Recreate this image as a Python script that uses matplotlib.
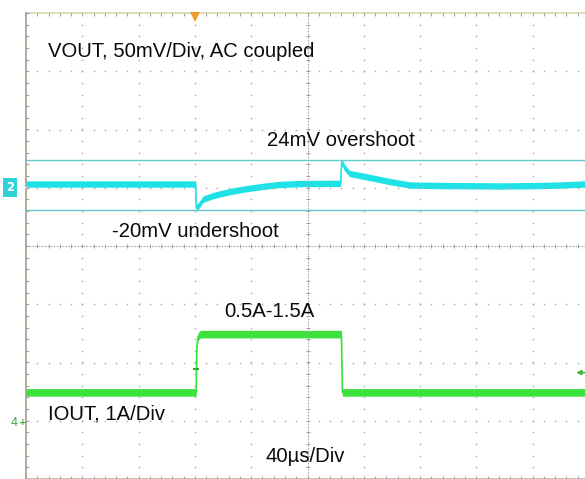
import numpy as np
import matplotlib
matplotlib.use("Agg")
import matplotlib.pyplot as plt

# ---------------- data ----------------
time_v_us = [0, 120.5, 121.0, 123.0, 126.0, 133.0, 145.0, 157.0, 168.0, 180.0,
             195.0, 223.5, 224.3, 226.5, 230.0, 244.0, 259.0, 273.0, 294.0,
             337.0, 365.0, 379.0, 397.0, 400.0]
vout_mV = [0, 0, -20.6, -18.0, -12.9, -9.9, -6.4, -3.9, -2.1, -0.4,
           0.4, 0.6, 18.9, 13.7, 9.0, 5.7, 2.0, -0.9, -1.3,
           -1.7, -1.3, -0.9, 0, 0]

time_i_us = [0, 120.9, 121.4, 122.3, 124.0, 224.1, 224.8, 400.0]
iout_A = [0.5, 0.5, 1.30, 1.46, 1.5, 1.5, 0.5, 0.5]

cursor_mV = [21.0, -22.3]
trig_level_A = 0.84
trig_point_A = 0.90
trig_time_us = 121.0

vout_scale_mV = 50.0     # per division
iout_scale_A = 1.0       # per division
vout_offset_div = 1.064
iout_offset_div = -3.013

labels = [
    ("VOUT, 50mV/Div, AC coupled", 48, 57),
    ("24mV overshoot", 267, 146),
    ("-20mV undershoot", 112, 237),
    ("0.5A-1.5A", 224, 317),
    ("IOUT, 1A/Div", 48, 419),
    ("40\u00b5s/Div", 265, 462),
]

# ---------------- figure ----------------
W, H = 585, 479
fig = plt.figure(figsize=(W / 100, H / 100), dpi=100)
fig.patch.set_facecolor("white")
L, R, T, B = 26, 589, 13, 479
ax = fig.add_axes([L / W, (H - B) / H, (R - L) / W, (B - T) / H])
ax.set_xlim(0, 400)
ax.set_ylim(-4, 4)
ax.axis("off")

px_y = (B - T) / 8.0  # pixels per vertical division
grid_c = "#b0b0b0"

# dotted grid
for xi in range(1, 10):
    if xi == 5:
        continue
    ys = np.arange(-4, 4.001, 0.2)
    ax.plot(np.full_like(ys, xi * 40.0), ys, ls="none", marker="s", ms=1.1,
            mew=0, color=grid_c)
for yi in range(-3, 4):
    if yi == 0:
        continue
    xs = np.arange(0, 400.001, 8.0)
    ax.plot(xs, np.full_like(xs, float(yi)), ls="none", marker="s", ms=1.1,
            mew=0, color=grid_c)

# center lines with minor ticks
ax.plot([0, 400], [0, 0], color="#a8a8a8", lw=0.8, ls=(0, (1.5, 1.2)))
xs = np.arange(0, 400.001, 8.0)
ax.plot(xs, np.zeros_like(xs), ls="none", marker="|", ms=3.5, mew=0.7, color="#a0a0a0")
ax.plot([200, 200], [-4, 4], color="#a8a8a8", lw=0.8, ls=(0, (1.5, 1.2)))
ys = np.arange(-4, 4.001, 0.2)
ax.plot(np.full_like(ys, 200.0), ys, ls="none", marker="_", ms=3.5, mew=0.7, color="#a0a0a0")

# borders and edge ticks
ax.plot([0, 400], [4, 4], color="#d4d7ae", lw=1.2, clip_on=False)
ax.plot([0, 400], [-4, -4], color="#b8b8a8", lw=1.2, clip_on=False)
ax.plot([0, 0], [-4, 4], color="#a9a690", lw=1.3, clip_on=False)
tick_dy = 3.0 / px_y
ax.vlines(xs, 4 - tick_dy, 4, color="#a0a0a0", lw=0.8)
ax.vlines(xs, -4, -4 + tick_dy, color="#a0a0a0", lw=0.8)
ax.hlines(ys, 0, 3.0 * 400 / (R - L), color="#a0a0a0", lw=0.8)

# cursors
cyan = "#1fe2e6"
cursor_c = "#62c9cc"
for c in cursor_mV:
    yv = vout_offset_div + c / vout_scale_mV
    ax.plot([0, 400], [yv, yv], color=cursor_c, lw=1.0)

# VOUT trace
tv = np.array(time_v_us)
yv = vout_offset_div + np.array(vout_mV) / vout_scale_mV
hv = 3.2 / px_y
ax.fill_between(tv, yv - hv, yv + hv, color=cyan, lw=0)
ax.plot(tv, yv, color=cyan, lw=1.2)

# IOUT trace
green = "#3be23b"
ti = np.array(time_i_us)
yi_ = iout_offset_div + np.array(iout_A) / iout_scale_A
hi = 3.8 / px_y
ax.fill_between(ti, yi_ - hi, yi_ + hi, color=green, lw=0)
ax.plot(ti, yi_, color=green, lw=1.2)

# trigger point on current edge
ax.plot([trig_time_us], [iout_offset_div + trig_point_A / iout_scale_A], marker="_",
        ms=4.5, mew=1.5, color="#2fa82f")

# trigger position marker (top)
ax.plot([120], [3.93], marker="v", ms=7.5, color="#f39a2a", mew=0, clip_on=False)

# trigger level arrow (right)
lvl = iout_offset_div + trig_level_A / iout_scale_A
ax.annotate("", xy=(391.0, lvl), xytext=(398.5, lvl),
            arrowprops=dict(arrowstyle="-|>", color="#35b835", lw=1.1,
                            mutation_scale=7, shrinkA=0, shrinkB=0))

# channel markers (left)
fig.text(6 / W, 1 - 191 / H, "2", color="white", fontsize=8.5, fontweight="bold",
         family="DejaVu Sans",
         bbox=dict(boxstyle="square,pad=0.22", fc="#2fd3d8", ec="none"))
fig.text(19 / W, 1 - 191 / H, "+", color="white", fontsize=7.5, fontweight="bold")
fig.text(11 / W, 1 - 426 / H, "4", color="#3aaa3a", fontsize=9, family="Liberation Sans")
fig.text(19 / W, 1 - 425 / H, "+", color="#3aaa3a", fontsize=6.5, fontweight="bold")

# annotations
fs = 14.6
for s, x, y in labels:
    fig.text(x / W, 1 - y / H, s, fontsize=fs, family="Liberation Sans",
             color="#0a0a0a", ha="left", va="baseline")

fig.savefig("out.png", dpi=100, facecolor="white")
